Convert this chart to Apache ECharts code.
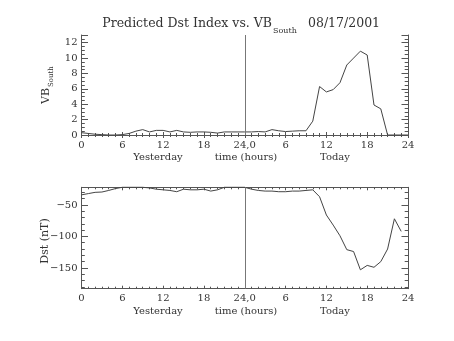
<!DOCTYPE html>
<html>
<head>
<meta charset="utf-8">
<script src="https://cdn.jsdelivr.net/npm/echarts@6/dist/echarts.min.js"></script>
<style>
  html, body { margin: 0; padding: 0; background: #fff; }
  #chart { width: 454px; height: 341px; }
</style>
</head>
<body>
<div id="chart"></div>
<script>
// Hours since the start of yesterday (0..48)
const hoursVB = [
  0, 1, 2, 3, 4, 5, 6, 7, 8, 9, 10, 11, 12, 13, 14, 15, 16, 17, 18, 19, 20, 21, 22, 23,
  24, 25, 26, 27, 28, 29, 30, 31, 32, 33, 34, 35, 36, 37, 38, 39, 40, 41, 42, 43, 44, 45, 46, 47, 48
];
// Southward VB (mV/m)
const vbSouth = [
  0.3, 0.2, 0.1, 0.05, 0.0, 0.0, 0.05, 0.2, 0.5, 0.7, 0.4, 0.6, 0.6, 0.4, 0.6, 0.4, 0.35, 0.4, 0.4, 0.35, 0.25, 0.4, 0.4, 0.4,
  0.4, 0.4, 0.45, 0.4, 0.7, 0.55, 0.45, 0.5, 0.55, 0.55, 1.8, 6.3, 5.6, 5.9, 6.8, 9.1, 10.0, 10.9, 10.4, 3.9, 3.4, 0.0, 0.0, 0.0, 0.0
];
const hoursDst = [
  0, 1, 2, 3, 4, 5, 6, 7, 8, 9, 10, 11, 12, 13, 14, 15, 16, 17, 18, 19, 20, 21, 22, 23,
  24, 25, 26, 27, 28, 29, 30, 31, 32, 33, 34, 35, 36, 37, 38, 39, 40, 41, 42, 43, 44, 45, 46, 47
];
// Predicted Dst (nT)
const dstValues = [
  -34, -32, -30, -29.5, -27, -24, -22, -22, -22, -22, -23, -25, -26, -27, -29, -25, -26, -26, -25, -28, -26, -22, -22, -22,
  -22, -25, -27, -28, -28, -29, -29, -28, -28, -27, -26, -37, -66, -82, -99, -121, -124, -153, -146, -149, -140, -120, -72, -92
];
// Tick labels along the time axis, one per 6 hours
const timeTickLabels = ['0', '6', '12', '18', '24,0', '6', '12', '18', '24'];
const vbTicks = [0, 2, 4, 6, 8, 10, 12];
const dstTicks = [-150, -100, -50];
const dstMinorTicks = [-180, -170, -160, -140, -130, -120, -110, -90, -80, -70, -60, -40, -30];

const FONT = '"DejaVu Serif", serif';
const INK = '#333';
const FRAME = '#555';

function timeAxis(gridIndex, position, labels) {
  return {
    type: 'value', gridIndex, position, min: 0, max: 48, interval: 6,
    axisLine: { show: true, lineStyle: { color: FRAME, width: 1 } },
    axisTick: { show: true, inside: true, length: 3, lineStyle: { color: FRAME } },
    minorTick: { show: true, splitNumber: 6, length: 2, lineStyle: { color: FRAME } },
    axisLabel: {
      show: labels, margin: 5, fontFamily: FONT, fontSize: 10, color: INK,
      formatter: v => timeTickLabels[Math.round(v / 6)]
    },
    splitLine: { show: false }, minorSplitLine: { show: false }
  };
}

function vbAxis(position, labels) {
  return {
    type: 'value', gridIndex: 0, position, min: 0, max: 13, interval: 2,
    axisLine: { show: true, onZero: false, lineStyle: { color: FRAME, width: 1 } },
    axisTick: { show: true, inside: true, length: 6.5, lineStyle: { color: FRAME } },
    minorTick: { show: true, splitNumber: 4, length: 3.3, lineStyle: { color: FRAME } },
    axisLabel: {
      show: labels, margin: 4, fontFamily: FONT, fontSize: 10, color: INK,
      customValues: vbTicks
    },
    splitLine: { show: false }, minorSplitLine: { show: false }
  };
}

function dstAxis(position, values, tickLen, labels, line) {
  return {
    type: 'value', gridIndex: 1, position, min: -183, max: -22,
    axisLine: { show: line, onZero: false, lineStyle: { color: FRAME, width: 1 } },
    axisTick: { show: true, inside: true, length: tickLen, customValues: values, lineStyle: { color: FRAME } },
    axisLabel: {
      show: labels, margin: 4, fontFamily: FONT, fontSize: 10, color: INK,
      customValues: values,
      formatter: v => String(v).replace('-', '\u2212')
    },
    splitLine: { show: false }
  };
}

const chart = echarts.init(document.getElementById('chart'), null, { renderer: 'canvas' });

const dividerLine = {
  silent: true, symbol: 'none', label: { show: false },
  lineStyle: { color: '#777', width: 1, type: 'solid' },
  data: [{ xAxis: 24 }]
};

chart.setOption({
  backgroundColor: '#fff',
  animation: false,
  grid: [
    { left: 81.5, top: 35, width: 326.5, height: 100 },
    { left: 81.5, top: 187.3, width: 326.5, height: 101.4 }
  ],
  xAxis: [
    timeAxis(0, 'bottom', true),
    timeAxis(0, 'top', false),
    timeAxis(1, 'bottom', true),
    timeAxis(1, 'top', false)
  ],
  yAxis: [
    vbAxis('left', true),
    vbAxis('right', false),
    dstAxis('left', dstTicks, 6.5, true, true),
    dstAxis('left', dstMinorTicks, 3.3, false, false),
    dstAxis('right', dstTicks, 6.5, false, true),
    dstAxis('right', dstMinorTicks, 3.3, false, false)
  ],
  series: [
    {
      type: 'line', xAxisIndex: 0, yAxisIndex: 0,
      data: hoursVB.map((h, i) => [h, vbSouth[i]]),
      symbol: 'none', clip: false,
      lineStyle: { color: '#444', width: 1 },
      markLine: dividerLine
    },
    {
      type: 'line', xAxisIndex: 2, yAxisIndex: 2,
      data: hoursDst.map((h, i) => [h, dstValues[i]]),
      symbol: 'none', clip: false,
      lineStyle: { color: '#444', width: 1 },
      markLine: dividerLine
    }
  ],
  graphic: [
    // Title with subscripted "South"
    { type: 'text', style: { text: 'Predicted Dst Index vs. VB', x: 272, y: 24, textAlign: 'right', textVerticalAlign: 'middle', font: '12.5px ' + FONT, fill: INK } },
    { type: 'text', style: { text: 'South', x: 273, y: 31, textAlign: 'left', textVerticalAlign: 'middle', font: '8px ' + FONT, fill: INK } },
    { type: 'text', style: { text: '08/17/2001', x: 308, y: 24, textAlign: 'left', textVerticalAlign: 'middle', font: '12.5px ' + FONT, fill: INK } },

    // Y-axis title of the upper panel
    {
      type: 'group', x: 46, y: 88, rotation: Math.PI / 2,
      children: [
        { type: 'text', style: { text: 'VB', x: 0, y: 0, textAlign: 'right', textVerticalAlign: 'middle', font: '11px ' + FONT, fill: INK } },
        { type: 'text', style: { text: 'South', x: 1, y: 5, textAlign: 'left', textVerticalAlign: 'middle', font: '7px ' + FONT, fill: INK } }
      ]
    },
    // Y-axis title of the lower panel
    {
      type: 'text', x: 45, y: 241, rotation: Math.PI / 2,
      style: { text: 'Dst (nT)', x: 0, y: 0, textAlign: 'center', textVerticalAlign: 'middle', font: '11px ' + FONT, fill: INK }
    },

    // Time-axis captions, upper panel
    { type: 'text', style: { text: 'Yesterday', x: 158, y: 157, textAlign: 'center', textVerticalAlign: 'middle', font: '10px ' + FONT, fill: INK } },
    { type: 'text', style: { text: 'time (hours)', x: 246, y: 157, textAlign: 'center', textVerticalAlign: 'middle', font: '10px ' + FONT, fill: INK } },
    { type: 'text', style: { text: 'Today', x: 335, y: 157, textAlign: 'center', textVerticalAlign: 'middle', font: '10px ' + FONT, fill: INK } },
    // Time-axis captions, lower panel
    { type: 'text', style: { text: 'Yesterday', x: 158, y: 311, textAlign: 'center', textVerticalAlign: 'middle', font: '10px ' + FONT, fill: INK } },
    { type: 'text', style: { text: 'time (hours)', x: 246, y: 311, textAlign: 'center', textVerticalAlign: 'middle', font: '10px ' + FONT, fill: INK } },
    { type: 'text', style: { text: 'Today', x: 335, y: 311, textAlign: 'center', textVerticalAlign: 'middle', font: '10px ' + FONT, fill: INK } }
  ]
});
</script>
</body>
</html>
